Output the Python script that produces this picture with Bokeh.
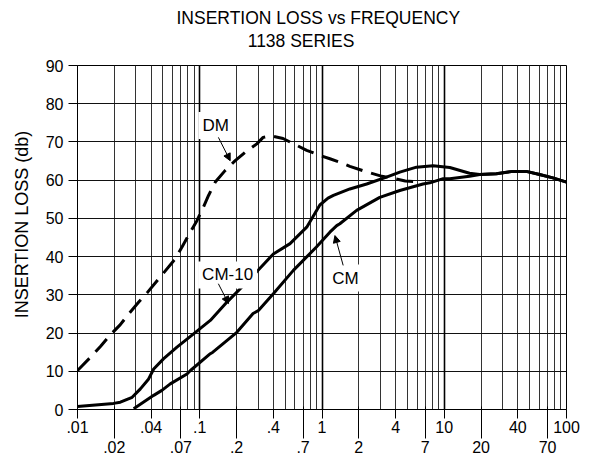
from bokeh.plotting import figure
from bokeh.models import (LogAxis, LinearAxis, FixedTicker, Grid, Label, Arrow, NormalHead,
                          Range1d, Title)
from bokeh.embed import file_html
from bokeh.resources import INLINE

FONT = "Liberation Sans"

# ---- axis ticks / labels ----
x_top_ticks = [0.01, 0.04, 0.1, 0.4, 1.0, 4.0, 10.0, 40.0, 100.0]
x_top_labels = [".01", ".04", ".1", ".4", "1", "4", "10", "40", "100"]
x_bottom_ticks = [0.02, 0.07, 0.2, 0.7, 2.0, 7.0, 20.0, 70.0]
x_bottom_labels = [".02", ".07", ".2", ".7", "2", "7", "20", "70"]
decades = [0.01, 0.1, 1.0, 10.0, 100.0]
multipliers = [1, 2, 3, 4, 5, 6, 7, 8, 9]
y_ticks = [0, 10, 20, 30, 40, 50, 60, 70, 80, 90]

title_text = "INSERTION LOSS vs FREQUENCY"
subtitle_text = "1138 SERIES"
subtitle_at = 0.674          # x position (data) where the subtitle is centred
ylabel_text = "INSERTION LOSS (db)"
ylabel_at = 48.4             # y position (data) where the axis title is centred

# ---- series (frequency MHz, insertion loss dB) ----
dm_freq = [0.01, 0.0128, 0.0154, 0.0184, 0.0224, 0.0262, 0.0317, 0.0375, 0.063, 0.0716,
           0.0836, 0.0948, 0.107, 0.118, 0.134, 0.161, 0.195, 0.235, 0.293, 0.33, 0.38,
           0.48, 0.75, 0.96, 1.16, 1.40, 1.69, 2.3, 3.1, 3.4, 4.8, 6.1]
dm_loss = [10.2, 13.7, 16.5, 19.4, 22.2, 25.0, 28.1, 30.7, 39.4, 42.5,
           46.4, 49.4, 52.9, 56.0, 59.5, 62.5, 65.1, 67.3, 69.5, 71.2, 71.6,
           70.9, 67.8, 66.5, 65.6, 64.7, 63.6, 62.2, 61.0, 60.8, 59.8, 59.6]

cm10_freq = [0.01, 0.0197, 0.0224, 0.028, 0.0327, 0.0382, 0.042, 0.0507, 0.0651, 0.089,
             0.122, 0.167, 0.258, 0.40, 0.548, 0.75, 0.96, 1.12, 1.24, 1.69, 2.32, 3.37,
             4.33, 5.93, 8.1, 11.1, 16.1, 19.5, 26.7, 36.5, 46.9, 60.2, 77.3, 100.0]
cm10_loss = [0.8, 1.6, 1.9, 3.2, 5.4, 8.0, 10.6, 13.3, 16.3, 19.8,
             23.3, 28.1, 34.2, 40.7, 43.4, 47.7, 53.5, 55.3, 56.0, 57.7, 59.0, 60.8,
             62.1, 63.4, 63.8, 63.3, 61.8, 61.5, 61.7, 62.3, 62.3, 61.5, 60.6, 59.5]

cm_freq = [0.0288, 0.042, 0.049, 0.0574, 0.0786, 0.084, 0.122, 0.128, 0.201, 0.273,
           0.302, 0.40, 0.583, 0.90, 1.16, 1.32, 1.40, 1.92, 2.97, 4.33, 6.7, 7.62,
           9.8, 11.1, 16.1, 19.5, 26.7, 36.5, 46.9, 60.2, 77.3, 100.0]
cm_loss = [0.2, 3.7, 5.0, 6.7, 9.3, 10.2, 14.6, 15.0, 20.2, 25.1,
           25.9, 30.3, 36.4, 42.5, 46.4, 48.1, 48.6, 52.1, 55.5, 57.3, 59.0, 59.3,
           60.4, 60.4, 61.0, 61.5, 61.7, 62.3, 62.3, 61.5, 60.6, 59.5]

grid_ticks = [m * d for d in decades[:-1] for m in multipliers] + [decades[-1]]

p = figure(width=602, height=462, x_axis_type="log", title=None,
           x_range=Range1d(0.01, 100), y_range=Range1d(0, 90),
           output_backend="svg", toolbar_location=None,
           min_border_left=77, min_border_right=36, min_border_top=65, min_border_bottom=53,
           background_fill_color="white", border_fill_color="white")
p.outline_line_color = "black"
p.outline_line_width = 1

# grids
p.xgrid.ticker = FixedTicker(ticks=grid_ticks)
p.xgrid.grid_line_color = "#333333"
p.xgrid.grid_line_width = 1
p.ygrid.ticker = FixedTicker(ticks=y_ticks)
p.ygrid.grid_line_color = "#111111"
p.ygrid.grid_line_width = 1
p.add_layout(Grid(dimension=0, ticker=FixedTicker(ticks=decades),
                  grid_line_color="black", grid_line_width=1.6))

tick_font_size = "16px"

# bottom axis, first row of labels
ax = p.xaxis[0]
ax.ticker = FixedTicker(ticks=x_top_ticks, minor_ticks=[])
ax.major_label_overrides = dict(zip(x_top_ticks, x_top_labels))
ax.major_tick_out = 9
ax.major_tick_in = 0
ax.minor_tick_out = 0
ax.minor_tick_in = 0
ax.major_label_standoff = 2
ax.major_label_text_align = "left"
ax.major_label_text_font = FONT
ax.major_label_text_font_size = tick_font_size
ax.major_label_text_color = "black"
ax.axis_line_color = "black"
ax.major_tick_line_color = "black"

# bottom axis, second row of labels
ax2 = LogAxis(ticker=FixedTicker(ticks=x_bottom_ticks, minor_ticks=[]),
              major_label_overrides=dict(zip(x_bottom_ticks, x_bottom_labels)),
              axis_line_color=None, major_tick_in=29, major_tick_out=3,
              minor_tick_in=0, minor_tick_out=0, major_label_standoff=2,
              major_label_text_align="left", major_label_text_font=FONT,
              major_label_text_font_size=tick_font_size, major_label_text_color="black",
              major_tick_line_color="black")
p.add_layout(ax2, "below")

# y axis
ay = p.yaxis[0]
ay.ticker = FixedTicker(ticks=y_ticks, minor_ticks=[])
ay.major_tick_out = 9
ay.major_tick_in = 0
ay.minor_tick_out = 0
ay.minor_tick_in = 0
ay.major_label_standoff = 5
ay.major_label_text_font = FONT
ay.major_label_text_font_size = tick_font_size
ay.major_label_text_color = "black"
ay.axis_line_color = "black"
ay.major_tick_line_color = "black"

# y axis title, as an outer label-only axis so it can sit off-centre
ay2 = LinearAxis(ticker=FixedTicker(ticks=[ylabel_at], minor_ticks=[]),
                 major_label_overrides={ylabel_at: ylabel_text},
                 major_label_orientation="vertical",
                 axis_line_color=None, major_tick_line_color=None,
                 major_tick_in=0, major_tick_out=0, minor_tick_in=0, minor_tick_out=0,
                 major_label_standoff=10, major_label_text_font=FONT,
                 major_label_text_font_size="18px", major_label_text_color="black")
p.add_layout(ay2, "left")

# subtitle as a label-only top axis (off-centre like the original)
sub_ax = LogAxis(ticker=FixedTicker(ticks=[subtitle_at], minor_ticks=[]),
                 major_label_overrides={subtitle_at: subtitle_text},
                 axis_line_color=None, major_tick_line_color=None,
                 major_tick_in=0, major_tick_out=0, minor_tick_in=0, minor_tick_out=0,
                 major_label_standoff=15, major_label_text_font=FONT,
                 major_label_text_font_size="17.5px", major_label_text_color="black",
                 major_label_text_align="center")
p.add_layout(sub_ax, "above")
p.add_layout(Title(text=title_text, align="left", offset=99, standoff=0,
                   text_font=FONT, text_font_size="17.5px", text_font_style="normal",
                   text_color="black"), "above")

# curves
p.line(dm_freq, dm_loss, line_color="black", line_width=3, line_dash="17 9")
p.line(cm10_freq, cm10_loss, line_color="black", line_width=3)
p.line(cm_freq, cm_loss, line_color="black", line_width=3)

# curve labels with arrows
lab_style = dict(text_align="center", text_baseline="middle", text_font=FONT,
                 text_font_size="17px", text_color="black",
                 background_fill_color="white", padding=4)
p.add_layout(Label(x=0.135, y=74.3, text="DM", **lab_style))
p.add_layout(Label(x=0.169, y=35.2, text="CM-10", **lab_style))
p.add_layout(Label(x=1.556, y=34.4, text="CM", **lab_style))

for (xs, ys, xe, ye) in [(0.142, 71.2, 0.1775, 65.1), (0.142, 32.9, 0.172, 27.7),
                         (1.49, 37.7, 1.276, 45.5)]:
    p.add_layout(Arrow(x_start=xs, y_start=ys, x_end=xe, y_end=ye, line_width=1,
                       line_color="black",
                       end=NormalHead(size=7, fill_color="black", line_color="black")))

open("out.html", "w").write(file_html(p, INLINE))
